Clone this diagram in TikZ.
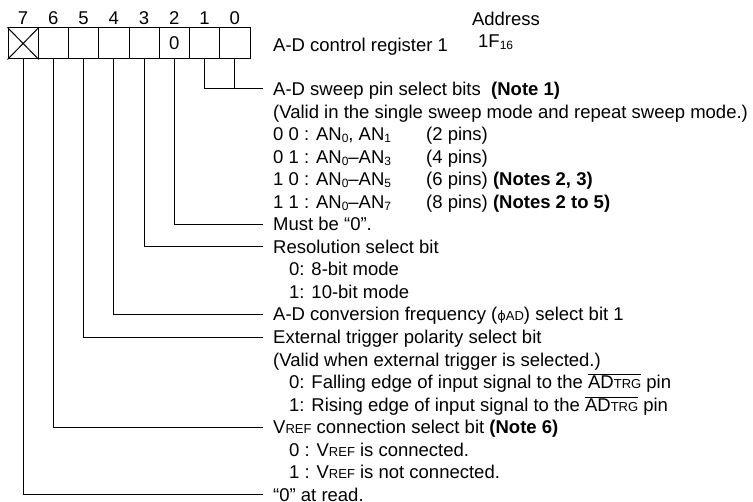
\documentclass[tikz,border=0pt]{standalone}
\usepackage{fontspec}
\setmainfont{Liberation Sans}
\newfontfamily\phifont{DejaVu Sans}
\usetikzlibrary{positioning,calc}
\newcommand{\lo}[1]{\raisebox{-2pt}{\fontsize{12}{12}\selectfont #1}}
\newcommand{\sm}[1]{{\fontsize{13}{13}\selectfont #1}}
\newcommand{\trgpin}{$\overline{\mbox{AD\sm{TRG}}}$}

\begin{document}
\begin{tikzpicture}[x=1pt,y=-1pt,font=\fontsize{18.5}{22}\selectfont,
  cell/.style={draw,line width=1pt,minimum width=30.25pt,minimum height=31pt,inner sep=0pt},
  num/.style={inner sep=0pt},
  txt/.style={anchor=west,inner xsep=10pt,inner ysep=0pt,text height=13pt,text depth=0pt},
  lead/.style={line width=1pt}]
\useasboundingbox (0,0) rectangle (753,502);
% register cells
\foreach \b/\v in {0/,1/,2/0,3/,4/,5/,6/,7/}
  {\node[cell] (b\b) at ({234.875-30.25*\b},43.5) {\v};
   \node[num,above=2.5pt of b\b] (n\b) {\b};}
\draw[lead] (b7.north west) -- (b7.south east) (b7.north east) -- (b7.south west);
\node[num] (addr) at (506,19) {Address};
\node[txt] (regname) at (263,45) {A-D control register 1};
\node[num,anchor=west] (regaddr) at (478,42) {1F\lo{16}};
% description lines
\foreach \k/\dx/\s in {
  0/0/{A-D sweep pin select bits\ \ \textbf{(Note 1)}},
  1/0/{(Valid in the single sweep mode and repeat sweep mode.)},
  2/0/{\makebox[153pt][l]{0 0 : AN\lo{0}, AN\lo{1}}(2 pins)},
  3/0/{\makebox[153pt][l]{0 1 : AN\lo{0}–AN\lo{3}}(4 pins)},
  4/0/{\makebox[153pt][l]{1 0 : AN\lo{0}–AN\lo{5}}(6 pins) \textbf{(Notes 2, 3)}},
  5/0/{\makebox[153pt][l]{1 1 : AN\lo{0}–AN\lo{7}}(8 pins) \textbf{(Notes 2 to 5)}},
  6/0/{Must be “0”.},
  7/0/{Resolution select bit},
  8/16/{0: 8-bit mode},
  9/16/{1: 10-bit mode},
  10/0/{A-D conversion frequency ({\phifont\sm{ϕ}}\sm{AD}) select bit 1},
  11/0/{External trigger polarity select bit},
  12/0/{(Valid when external trigger is selected.)},
  13/16/{0: Falling edge of input signal to the \trgpin{} pin},
  14/16/{1: Rising edge of input signal to the \trgpin{} pin},
  15/0/{V\sm{REF} connection select bit \textbf{(Note 6)}},
  16/16/{0 : V\sm{REF} is connected.},
  17/16/{1 : V\sm{REF} is not connected.},
  18/0/{“0” at read.}}
  \node[txt] (t\k) at ({263+\dx},{89+22.55*\k}) {\s};
% leaders
\draw[lead] (b1.south) |- (t0.west);
\draw[lead] (b0.south) -- (b0.south |- t0.west);
\foreach \b/\k in {2/6,3/7,4/10,5/11,6/15,7/18}
  \draw[lead] (b\b.south) |- (t\k.west);
\end{tikzpicture}
\end{document}
